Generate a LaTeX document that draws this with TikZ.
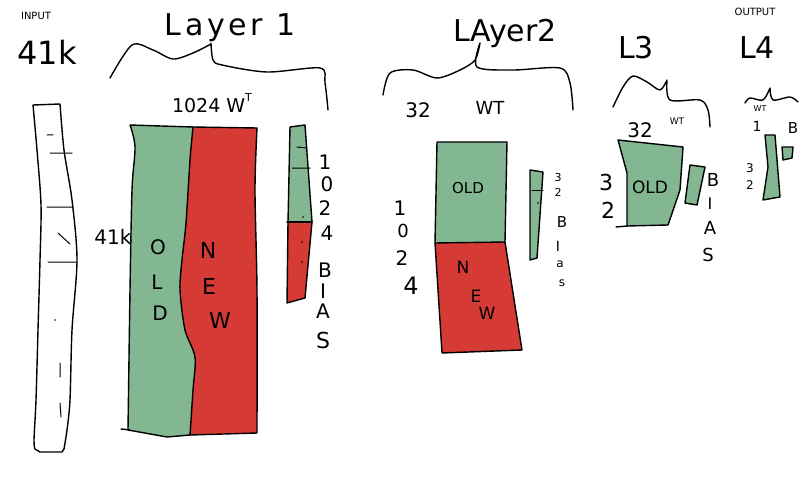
\documentclass[tikz,border=0pt]{standalone}
\usepackage{fontspec}
\setmainfont{DejaVu Sans}
\definecolor{oldg}{RGB}{131,183,146}
\definecolor{newr}{RGB}{214,58,52}
\begin{document}
\begin{tikzpicture}[x=1pt,y=-1pt,
  ink/.style={line width=1.4pt, line cap=round, line join=round},
  thinink/.style={line width=1pt, line cap=round},
  oldfill/.style={ink, fill=oldg},
  newfill/.style={ink, fill=newr},
  hand/.style={inner sep=0pt, font=\fontsize{#1}{#1}\selectfont},
  hand/.default=20]
\useasboundingbox (0,0) rectangle (800,500);

% ---------- input column ----------
\draw[ink, fill=white] plot[smooth, tension=0.5] coordinates {(33,105)(37,150)(41,205)(40,260)(38,330)(36,400)(34,440)(35,449)}
  -- (40,452) -- (62,452) -- plot[smooth, tension=0.5] coordinates {(64,449)(67,430)(70,400)(72,330)(77,260)(72,200)(64,150)(60,104)} -- cycle;
\draw[thinink] (47,135)--(53,135) (50,153)--(72,153) (47,207)--(73,207) (58,233)--(70,244) (48,262)--(77,262)
  (60,363)--(60,377) (60,403)--(61,417);
\fill (55,320) circle (0.8);
\node[hand=10] (inlbl) at (36,16) {INPUT};
\node[hand=32] (insize) at (47,52) {41k};

% ---------- layer 1 ----------
\node[hand=30] (l1lbl) at (230,28) {\addfontfeature{LetterSpace=12}Layer 1};
\draw[ink] plot[smooth, tension=0.5] coordinates {(110,78)(132,45)(153,50)(173,59)(193,53)(211,44)}
  plot[smooth, tension=0.5] coordinates {(211,43)(213,60)(222,65)(267,72)(320,68)(325,83)(328,110)};
\node[hand=19] (l1wt) at (212,103) {1024 W\raisebox{0.55em}{\fontsize{11}{11}\selectfont T}};

\fill[oldg] plot[smooth, tension=0.5] coordinates {(130,125)(135,147)(132,190)(130,290)(128,430)}
  -- (167,437) -- plot[smooth, tension=0.5] coordinates {(190,435)(193,390)(195,357)(185,330)(180,290)(182,260)(186,223)(190,160)(193,127)} -- cycle;
\fill[newr] (193,127) -- plot[smooth, tension=0.5] coordinates {(257,128)(255,190)(257,290)(257,433)}
  -- (190,435) -- plot[smooth, tension=0.5] coordinates {(190,435)(193,390)(195,357)(185,330)(180,290)(182,260)(186,223)(190,160)(193,127)} -- cycle;
\draw[ink] plot[smooth, tension=0.5] coordinates {(130,125)(135,147)(132,190)(130,290)(128,430)}
  -- (167,437) -- (190,435) -- (257,433)
  plot[smooth, tension=0.5] coordinates {(257,433)(257,290)(255,190)(257,128)} -- (193,127) -- (130,125);
\draw[ink] plot[smooth, tension=0.5] coordinates {(193,127)(190,160)(186,223)(182,260)(180,290)(185,330)(195,357)(193,390)(190,435)};
\draw[ink] (121,429)--(130,430);
\node[hand=20] (l1side) at (113,237) {41k};
\node[hand=20] (l1o) at (158,247) {O};
\node[hand=20] (l1l) at (157,282) {L};
\node[hand=20] (l1d) at (160,313) {D};
\node[hand=22] (l1n) at (208,250) {N};
\node[hand=22] (l1e) at (209,286) {E};
\node[hand=22] (l1w) at (220,320) {W};

% bias 1
\fill[oldg] (290,127) -- (305,125) -- (312,222) -- (288,222) -- cycle;
\fill[newr] (288,222) -- (312,222) -- (305,298) -- (287,303) -- cycle;
\draw[ink] (290,127) -- (305,125) -- (312,222) -- (305,298) -- (287,303) -- (288,222) -- cycle;
\draw[ink] (287,222) -- (312,222);
\draw[thinink] (297,147)--(307,148) (292,168)--(310,168);
\fill (303,217) circle (0.8) (302,242) circle (0.8) (302,262) circle (0.8);
\node[hand=20] (b1a) at (325,162) {1};
\node[hand=20] (b1b) at (327,184) {0};
\node[hand=20] (b1c) at (325,208) {2};
\node[hand=20] (b1d) at (327,233) {4};
\node[hand=20] (b1e) at (325,270) {B};
\node[hand=20] (b1f) at (323,291) {I};
\node[hand=20] (b1g) at (323,311) {A};
\node[hand=22] (b1h) at (323,340) {S};

% ---------- layer 2 ----------
\node[hand=30] (l2lbl) at (505,33) {LAyer2};
\draw[ink] plot[smooth, tension=0.5] coordinates {(383,95)(390,73)(413,70)(437,78)(460,70)(475,60)(480,43)}
  plot[smooth, tension=0.5] coordinates {(480,43)(477,67)(513,70)(560,68)(570,83)(573,110)};
\node[hand=20] (l2n) at (418,110) {32};
\node[hand=18] (l2wt) at (490,108) {WT};

\fill[oldg] (437,142) -- (507,142) -- (505,242) -- (435,243) -- cycle;
\fill[newr] (435,243) -- (505,242) -- (522,350) -- (442,353) -- cycle;
\draw[ink] (437,142) -- (507,142) -- (505,242) -- (522,350) -- (442,353) -- (435,243) -- cycle;
\draw[ink] (435,243) -- (505,242);
\node[hand=15] (l2old) at (468,188) {OLD};
\node[hand=17] (l2nn) at (463,267) {N};
\node[hand=17] (l2ee) at (476,296) {E};
\node[hand=17] (l2ww) at (487,313) {W};
\node[hand=20] (l2sa) at (400,208) {1};
\node[hand=18] (l2sb) at (403,231) {0};
\node[hand=20] (l2sc) at (402,258) {2};
\node[hand=24] (l2sd) at (411,286) {4};

% bias 2
\fill[oldg] (530,170) -- (543,172) -- (537,258) -- (530,260) -- cycle;
\draw[ink] (530,170) -- (543,172) -- (537,258) -- (530,260) -- cycle;
\draw[thinink] (532,190) -- (543,190);
\fill (538,203) circle (0.8);
\node[hand=11] (b2a) at (558,177) {3};
\node[hand=11] (b2b) at (558,192) {2};
\node[hand=15] (b2c) at (562,222) {B};
\node[hand=14] (b2d) at (558,246) {I};
\node[hand=12] (b2e) at (560,264) {a};
\node[hand=12] (b2f) at (562,283) {s};

% ---------- layer 3 ----------
\node[hand=30] (l3lbl) at (636,48) {L3};
\draw[ink] plot[smooth, tension=0.5] coordinates {(613,107)(623,87)(633,76)(647,82)(660,90)(667,80)}
  plot[smooth, tension=0.5] coordinates {(667,80)(670,100)(700,100)(708,110)(710,127)};
\node[hand=20] (l3n) at (640,130) {32};
\node[hand=9] (l3wt) at (677,121) {WT};
\draw[oldfill] (618,140) -- (627,173) -- (627,226) -- (668,225) -- (680,190) -- (683,147) -- cycle;
\draw[ink] (616,227) -- (627,226);
\node[hand=17] (l3old) at (650,187) {OLD};
\node[hand=22] (l3sa) at (606,182) {3};
\node[hand=22] (l3sb) at (608,210) {2};
\draw[oldfill] (690,165) -- (705,167) -- (697,205) -- (685,203) -- cycle;
\node[hand=18] (b3a) at (713,180) {B};
\node[hand=16] (b3b) at (710,204) {I};
\node[hand=18] (b3c) at (710,228) {A};
\node[hand=18] (b3d) at (708,255) {S};

% ---------- layer 4 (output) ----------
\node[hand=10] (l4out) at (755,12) {OUTPUT};
\node[hand=30] (l4lbl) at (757,48) {L4};
\draw[ink] plot[smooth, tension=0.5] coordinates {(745,103)(750,98)(763,100)(770,88)}
  plot[smooth, tension=0.5] coordinates {(770,88)(773,100)(790,97)(798,102)};
\node[hand=8] (l4wt) at (760,109) {WT};
\node[hand=14] (l4one) at (757,126) {1};
\node[hand=15] (l4b) at (793,128) {B};
\node[hand=12] (l4sa) at (750,168) {3};
\node[hand=12] (l4sb) at (750,185) {2};
\draw[oldfill] (765,135) -- (775,135) -- (780,197) -- (763,200) -- (768,167) -- cycle;
\draw[oldfill] (782,147) -- (793,147) -- (792,158) -- (783,160) -- cycle;
\end{tikzpicture}
\end{document}
